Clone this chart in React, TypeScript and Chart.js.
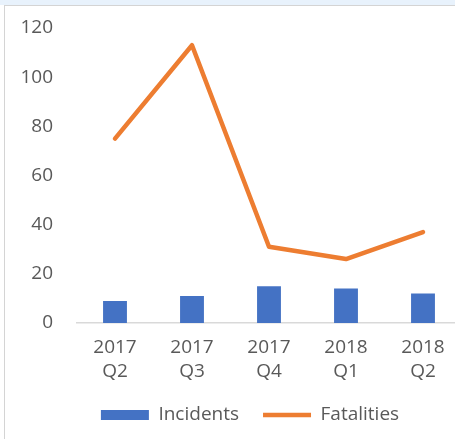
import React, { useEffect, useRef } from "react";
import { Chart, registerables } from "chart.js";

Chart.register(...registerables);

const categories: string[][] = [
  ["2017", "Q2"],
  ["2017", "Q3"],
  ["2017", "Q4"],
  ["2018", "Q1"],
  ["2018", "Q2"],
];
const incidents: number[] = [9, 11, 15, 14, 12];
const fatalities: number[] = [75, 113, 31, 26, 37];
const yTicks: number[] = [0, 20, 40, 60, 80, 100, 120];

const BLUE = "#4472C4";
const ORANGE = "#ED7D31";
const TEXT = "#595959";
const FONT = { family: "'Open Sans', sans-serif", size: 19, lineHeight: 1.26 };

const legendShift = {
  id: "legendShift",
  afterLayout(chart: any) {
    const lg = chart.legend;
    if (!lg) return;
    const target = 245;
    const shift = target - (lg.left + lg.right) / 2;
    lg.left += shift;
    lg.right += shift;
  },
};

export default function App() {
  const ref = useRef<HTMLCanvasElement | null>(null);

  useEffect(() => {
    if (!ref.current) return;
    const chart = new Chart(ref.current, {
      type: "bar",
      data: {
        labels: categories,
        datasets: [
          {
            type: "bar",
            label: "Incidents",
            data: incidents,
            backgroundColor: BLUE,
            borderWidth: 0,
            categoryPercentage: 1,
            barPercentage: 0.31,
            order: 2,
          },
          {
            type: "line",
            label: "Fatalities",
            data: fatalities,
            borderColor: ORANGE,
            backgroundColor: ORANGE,
            borderWidth: 4.5,
            pointRadius: 0,
            tension: 0,
            borderJoinStyle: "round",
            borderCapStyle: "round",
            order: 1,
          },
        ],
      } as any,
      options: {
        responsive: false,
        animation: false,
        devicePixelRatio: 1,
        layout: { padding: { left: 0, right: 35.5, top: 22, bottom: 4.5 } },
        scales: {
          x: {
            offset: true,
            grid: { display: false, drawTicks: false },
            border: { display: true, color: "#D9D9D9", width: 1.5 },
            ticks: { color: TEXT, font: FONT, padding: 13, maxRotation: 0, autoSkip: false },
            afterFit: (s: any) => {
              s.height = 58.5;
            },
          },
          y: {
            min: 0,
            max: 120,
            afterBuildTicks: (s: any) => {
              s.ticks = yTicks.map((v) => ({ value: v }));
            },
            grid: { display: false, drawTicks: false },
            border: { display: false },
            ticks: { color: TEXT, font: FONT, padding: 23.5 },
            afterFit: (s: any) => {
              s.width = 71.5;
              s.paddingTop = 10;
              s.paddingBottom = 10;
            },
          },
        },
        plugins: {
          tooltip: { enabled: false },
          legend: {
            position: "bottom",
            labels: {
              usePointStyle: true,
              pointStyleWidth: 48,
              boxWidth: 48,
              boxHeight: 10,
              padding: 24,
              color: TEXT,
              font: FONT,
              generateLabels: (c: any) =>
                c.data.datasets.map((d: any, i: number) => ({
                  text: d.label,
                  datasetIndex: i,
                  fillStyle: i === 0 ? BLUE : ORANGE,
                  strokeStyle: i === 0 ? BLUE : ORANGE,
                  lineWidth: i === 0 ? 0 : 4.5,
                  pointStyle: i === 0 ? "rect" : "line",
                  hidden: false,
                  fontColor: TEXT,
                  rotation: 0,
                })),
            },
          },
        },
      } as any,
      plugins: [legendShift],
    });
    return () => chart.destroy();
  }, []);

  return (
    <div
      style={{
        position: "fixed",
        left: 0,
        top: 0,
        width: 455,
        height: 439,
        overflow: "hidden",
        background: "#ffffff",
      }}
    >
      <div
        style={{
          position: "absolute",
          left: 0,
          top: 0,
          width: 455,
          height: 5,
          background: "#E8F2FC",
        }}
      />
      <div
        style={{
          position: "absolute",
          left: 4,
          top: 5,
          width: 600,
          height: 500,
          borderLeft: "1px solid #D4D4D4",
          borderTop: "1px solid #D4D4D4",
          background: "#ffffff",
        }}
      >
        <canvas
          ref={ref}
          width={492}
          height={433}
          style={{ position: "absolute", left: 0, top: 0, width: 492, height: 433 }}
        />
      </div>
    </div>
  );
}
